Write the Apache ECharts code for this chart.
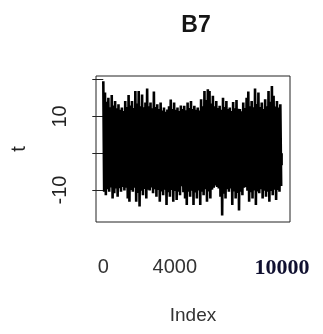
<!DOCTYPE html>
<html>
<head>
<meta charset="utf-8">
<script src="https://cdn.jsdelivr.net/npm/echarts@6/dist/echarts.min.js"></script>
<style>html,body{margin:0;padding:0;background:#fff}#c{width:323px;height:334px}</style>
</head>
<body>
<div id="c"></div>
<script>
// Title and axis names
var chartTitle = 'B7';
var xName = 'Index';
var yName = 't';

// Tick positions and tick labels
var xTicks = [0, 2000, 4000, 6000, 8000, 10000];
var xTickLabels = [0, 4000, 10000];
var yTicks = [-10, 0, 10, 20];
var yTickLabels = [-10, 10];

// Series length (Index runs 1..10000)
var seriesLength = 10000;

// Local upper extremes of the series, read left to right
var upperValues = [
  19.6, 16.5, 14.0, 15.1, 12.5, 15.8, 13.0, 14.2, 12.2, 13.3,
  11.8, 12.4, 11.5, 14.2, 12.6, 15.8, 13.0, 14.2, 12.3, 16.9,
  13.5, 16.9, 12.8, 16.0, 12.5, 13.8, 17.6, 12.8, 13.8, 12.2,
  16.8, 12.6, 13.3, 12.0, 13.8, 11.6, 12.4, 11.3, 11.9, 12.8,
  14.6, 12.0, 13.8, 11.8, 12.4, 11.5, 13.0, 12.0, 12.9, 11.7,
  13.8, 12.3, 14.2, 12.0, 12.9, 11.8, 12.4, 11.6, 14.7, 12.8,
  16.9, 14.5, 17.4, 16.9, 13.5, 15.6, 12.8, 14.2, 12.3, 12.9,
  11.8, 15.1, 12.6, 14.2, 12.0, 12.4, 11.5, 13.9, 12.2, 14.5,
  12.1, 12.0, 11.4, 13.8, 12.3, 15.1, 16.8, 12.8, 14.2, 12.5,
  17.6, 13.4, 16.5, 12.6, 13.8, 12.0, 14.7, 12.8, 16.9, 14.0,
  18.3, 15.6, 12.7, 14.2, 12.4, 13.3
];

// Local lower extremes of the series, read left to right
var lowerValues = [
  -10.5, -11.4, -9.8, -10.5, -9.3, -12.3, -10.9, -9.6, -11.8, -9.5,
  -10.5, -9.2, -10.1, -9.4, -12.3, -13.2, -10.0, -10.5, -9.4, -13.2,
  -10.8, -14.5, -10.2, -11.4, -9.7, -12.3, -9.9, -10.1, -9.3, -10.9,
  -9.8, -11.8, -10.0, -13.2, -10.4, -11.4, -9.9, -14.1, -10.6, -11.8,
  -10.0, -13.2, -10.3, -12.7, -10.5, -11.4, -9.0, -10.6, -12.3, -14.1,
  -10.5, -11.8, -10.2, -14.1, -10.7, -12.3, -10.1, -14.1, -10.5, -11.4,
  -9.8, -13.2, -10.4, -12.3, -9.9, -9.4, -8.8, -9.2, -9.6, -11.8,
  -16.9, -11.0, -12.3, -9.8, -10.5, -9.6, -14.1, -10.4, -12.3, -10.8,
  -15.6, -10.5, -11.4, -9.4, -9.2, -10.2, -13.2, -10.6, -12.3, -10.1,
  -14.1, -10.4, -10.9, -9.8, -12.3, -10.2, -11.8, -10.5, -13.2, -10.3,
  -11.4, -9.9, -12.7, -10.0, -10.5, -8.9
];

// Build the zig-zag trace: alternate upper and lower extremes along the index
var n = upperValues.length;
var step = seriesLength / n;
var trace = [];
for (var i = 0; i < n; i++) {
  trace.push([1 + i * step, upperValues[i]]);
  trace.push([1 + (i + 0.5) * step, lowerValues[i]]);
}

var chart = echarts.init(document.getElementById('c'), null, {renderer: 'canvas'});
var sans = 'Liberation Sans, Arial, sans-serif';
chart.setOption({
  animation: false,
  backgroundColor: '#fff',
  title: {
    text: chartTitle,
    left: 191,
    top: 9,
    textAlign: 'center',
    textStyle: {fontFamily: sans, fontSize: 23, fontWeight: 'bold', color: '#151515'}
  },
  grid: {
    left: 96, right: 33, top: 76, bottom: 112,
    outerBoundsMode: 'none',
    containLabel: false,
    show: true, borderColor: '#222', borderWidth: 1, backgroundColor: 'transparent'
  },
  xAxis: {
    type: 'value',
    min: -408, max: 10448,
    name: xName,
    nameLocation: 'middle',
    nameGap: 84,
    nameTextStyle: {fontFamily: sans, fontSize: 19, color: '#333'},
    axisLine: {show: false},
    splitLine: {show: false},
    axisTick: {show: true, customValues: xTicks, length: 12, lineStyle: {color: '#222', width: 1}},
    axisLabel: {
      customValues: xTickLabels,
      margin: 35,
      formatter: function (v) { return v === 10000 ? '{b|' + v + '}' : '{a|' + v + '}'; },
      rich: {
        a: {fontFamily: sans, fontSize: 20, color: '#333'},
        b: {fontFamily: 'Liberation Serif, Times New Roman, serif', fontSize: 22, fontWeight: 'bold', color: '#101030'}
      }
    }
  },
  yAxis: {
    type: 'value',
    min: -18.7, max: 21.0,
    name: yName,
    nameLocation: 'middle',
    nameGap: 67,
    nameRotate: 90,
    nameTextStyle: {fontFamily: sans, fontSize: 20, color: '#222'},
    axisLine: {show: false},
    splitLine: {show: false},
    axisTick: {show: true, customValues: yTicks, length: 11, lineStyle: {color: '#222', width: 1}},
    axisLabel: {
      customValues: yTickLabels,
      rotate: 90,
      margin: 26,
      fontFamily: sans, fontSize: 20, color: '#222'
    }
  },
  series: [{
    type: 'line',
    data: trace,
    showSymbol: false,
    symbol: 'none',
    lineStyle: {color: '#000', width: 2.6, join: 'bevel'},
    silent: true
  }]
});
</script>
</body>
</html>
